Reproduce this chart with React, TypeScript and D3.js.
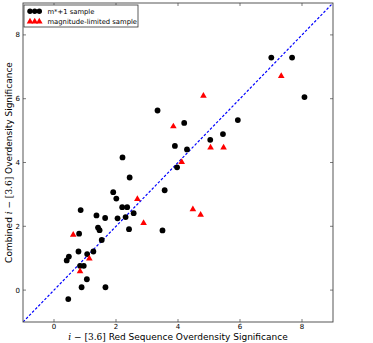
import React from 'react';
import * as d3 from 'd3';

// m*+1 sample (black circles)
const mstarX = [0.46, 0.41, 0.48, 0.81, 0.86, 0.79, 0.84, 0.96, 0.89, 1.06, 1.07, 1.27, 1.37, 1.42, 1.47, 1.54, 1.65, 1.66, 1.91, 2.01, 2.05, 2.20, 2.36, 2.31, 2.44, 2.42, 2.57, 3.57, 3.50, 3.34, 2.21, 4.20, 3.90, 4.29, 3.97, 7.01, 7.68, 8.08, 5.93, 5.45, 5.04];
const mstarY = [-0.28, 0.93, 1.05, 1.77, 2.51, 1.21, 0.76, 0.76, 0.09, 0.34, 1.13, 1.21, 2.34, 1.96, 1.88, 1.57, 2.26, 0.09, 3.07, 2.87, 2.25, 2.60, 2.60, 2.29, 3.53, 1.91, 2.41, 3.13, 1.87, 5.63, 4.16, 5.24, 4.52, 4.41, 3.85, 7.29, 7.29, 6.05, 5.33, 4.89, 4.71];

// magnitude-limited sample (red triangles)
const magX = [0.62, 1.14, 0.84, 2.69, 2.89, 3.85, 4.12, 7.33, 4.82, 5.05, 5.47, 4.48, 4.73];
const magY = [1.73, 0.99, 0.59, 2.85, 2.10, 5.13, 4.01, 6.71, 6.09, 4.47, 4.47, 2.53, 2.36];

const xTicks = [0, 2, 4, 6, 8];
const yTicks = [0, 2, 4, 6, 8];

const W = 373;
const H = 343;
const margin = { top: 3, right: 40, bottom: 21, left: 23 };

export default function App() {
  const x = d3.scaleLinear().domain([-1, 9]).range([margin.left, W - margin.right]);
  const y = d3.scaleLinear().domain([-1, 9]).range([H - margin.bottom, margin.top]);
  const [x0, x1] = x.range();
  const [y0, y1] = y.range();

  const tri = d3.symbol().type(d3.symbolTriangle).size(19)() as string;
  const legendTri = d3.symbol().type(d3.symbolTriangle).size(19)() as string;

  const line = d3.line<number>().x(d => x(d)).y(d => y(d));

  const tickLen = 3;
  const mathFont = '"DejaVu Serif", serif';

  return (
    <svg width={W} height={H} style={{ position: 'absolute', left: 0, top: 0, background: '#fff' }}
      fontFamily='"DejaVu Sans", sans-serif'>
      <defs>
        <clipPath id="plot">
          <rect x={x0} y={y1} width={x1 - x0} height={y0 - y1} />
        </clipPath>
      </defs>

      {/* identity line */}
      <path d={line([-1, 9]) as string} stroke="#0000ff" strokeWidth={1.2} strokeDasharray="2.6,1.8"
        fill="none" clipPath="url(#plot)" />

      {/* m*+1 sample */}
      {mstarX.map((d, i) => (
        <circle key={'c' + i} cx={x(d)} cy={y(mstarY[i])} r={2.9} fill="#000" />
      ))}

      {/* magnitude-limited sample */}
      {magX.map((d, i) => (
        <path key={'t' + i} d={tri} transform={`translate(${x(d)},${y(magY[i])})`} fill="#ff0000" />
      ))}

      {/* frame */}
      <rect x={x0} y={y1} width={x1 - x0} height={y0 - y1} fill="none" stroke="#444" strokeWidth={0.9} />

      {/* x ticks */}
      {xTicks.map(t => (
        <g key={'xt' + t}>
          <line x1={x(t)} x2={x(t)} y1={y0} y2={y0 - tickLen} stroke="#444" strokeWidth={0.7} />
          <line x1={x(t)} x2={x(t)} y1={y1} y2={y1 + tickLen} stroke="#444" strokeWidth={0.7} />
          <text x={x(t)} y={y0 + 6.8} fontSize={7} textAnchor="middle" fill="#000">{t}</text>
        </g>
      ))}

      {/* y ticks */}
      {yTicks.map(t => (
        <g key={'yt' + t}>
          <line x1={x0} x2={x0 + tickLen} y1={y(t)} y2={y(t)} stroke="#444" strokeWidth={0.7} />
          <line x1={x1} x2={x1 - tickLen} y1={y(t)} y2={y(t)} stroke="#444" strokeWidth={0.7} />
          <text x={x0 - 3} y={y(t)} dy="0.35em" fontSize={7} textAnchor="end" fill="#000">{t}</text>
        </g>
      ))}

      {/* x label */}
      <text x={(x0 + x1) / 2} y={H - 3.3} fontSize={9} textAnchor="middle" fill="#000">
        <tspan fontFamily={mathFont} fontStyle="italic">i</tspan>
        <tspan fontFamily={mathFont}> − [3.6]</tspan>
        <tspan> Red Sequence Overdensity Significance</tspan>
      </text>

      {/* y label */}
      <text transform={`translate(12,${(y0 + y1) / 2}) rotate(-90)`} fontSize={9} textAnchor="middle" fill="#000">
        <tspan>Combined </tspan>
        <tspan fontFamily={mathFont} fontStyle="italic">i</tspan>
        <tspan fontFamily={mathFont}> − [3.6]</tspan>
        <tspan> Overdensity Significance</tspan>
      </text>

      {/* legend */}
      <g>
        <rect x={x0 + 1} y={y1 + 2} width={114} height={22} fill="#fff" stroke="#333" strokeWidth={0.8} />
        {[30, 34.7, 39.3].map((lx, i) => (
          <circle key={'lc' + i} cx={lx} cy={11.3} r={2.7} fill="#000" />
        ))}
        {[30, 34.7, 39.3].map((lx, i) => (
          <path key={'lt' + i} d={legendTri} transform={`translate(${lx},${21.5})`} fill="#ff0000" />
        ))}
        <text x={47.5} y={11.3} dy="0.35em" fontSize={6.8} fill="#000">m*+1 sample</text>
        <text x={47.5} y={21.3} dy="0.35em" fontSize={6.8} fill="#000">magnitude-limited sample</text>
      </g>
    </svg>
  );
}
